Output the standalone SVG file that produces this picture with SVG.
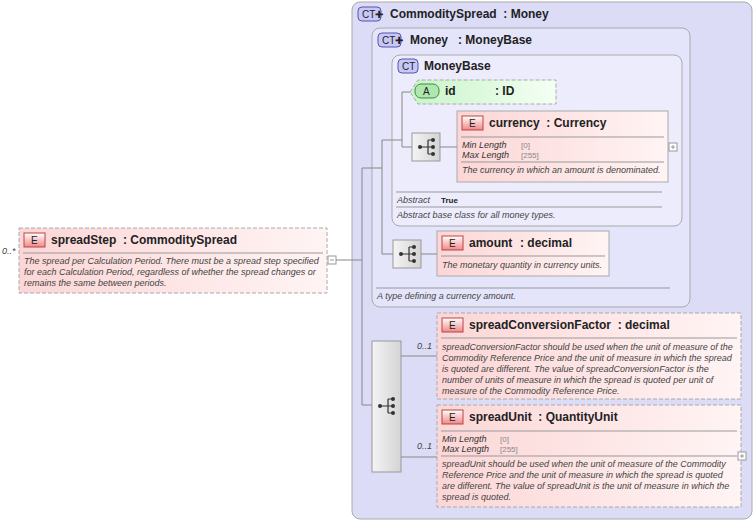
<svg xmlns="http://www.w3.org/2000/svg" width="755" height="522" viewBox="0 0 755 522">
<defs>
<linearGradient id="eg" x1="0" y1="0" x2="1" y2="0"><stop offset="0" stop-color="#fcd6d6"/><stop offset="1" stop-color="#fff4f4"/></linearGradient>
<linearGradient id="ag" x1="0" y1="0" x2="1" y2="0"><stop offset="0" stop-color="#c8f4c8"/><stop offset="1" stop-color="#f4fff4"/></linearGradient>
<linearGradient id="sg" x1="0" y1="0" x2="1" y2="0"><stop offset="0" stop-color="#f4f4f4"/><stop offset="1" stop-color="#d4d4d4"/></linearGradient>
<linearGradient id="bg" x1="0" y1="0" x2="0" y2="1"><stop offset="0" stop-color="#fff"/><stop offset="1" stop-color="#f08888"/></linearGradient>
<g id="seqicon"><circle cx="-8" cy="0" r="2" fill="#333"/><path d="M-8 0H0M0 -7V7M0 -7H5M0 0H5M0 7H5" stroke="#333" fill="none" stroke-width="1.2"/><circle cx="5" cy="-7" r="2" fill="#333"/><circle cx="5" cy="0" r="2" fill="#333"/><circle cx="5" cy="7" r="2" fill="#333"/></g>
</defs>
<style>
text{font-family:"Liberation Sans",Arial,sans-serif;fill:#222;white-space:pre}
.t{font-size:12px;font-weight:bold}
.d{font-size:9px;font-style:italic;fill:#444}
.c{font-size:9px;font-style:italic;fill:#333}
.v{font-size:8px;fill:#888}
.el{fill:url(#eg);stroke:#aaa}
.dash{stroke-dasharray:4,2}
.sep{stroke:#999;stroke-width:1}
.badge{fill:url(#bg);stroke:#b44}
.ct{fill:#c8c8f8;stroke:#55a;rx:4}
.seq{fill:url(#sg);stroke:#999}
.cn{stroke:#888;fill:none}
.pm{fill:#fff;stroke:#999}
</style>
<g id="commoditySpread">
<rect x="352" y="2" width="400" height="517" rx="8" fill="#dcdcf7" stroke="#aaa"/>
<rect x="358" y="7" width="23" height="14" class="ct"/><text x="362" y="18" font-size="10">CT✚</text>
<text x="390" y="18" class="t">CommoditySpread  : Money</text>
</g>
<g id="money">
<rect x="372" y="28" width="318" height="279" rx="8" fill="#e4e4fa" stroke="#aaa"/>
<rect x="378" y="33" width="23" height="14" class="ct"/><text x="382" y="44" font-size="10">CT✚</text>
<text x="410" y="44" class="t">Money</text><text x="458" y="44" class="t">: MoneyBase</text>
<line x1="376" y1="288" x2="670" y2="288" class="sep"/>
<text x="377" y="299" class="d">A type defining a currency amount.</text>
</g>
<g id="moneyBase">
<rect x="392" y="55" width="290" height="171" rx="8" fill="#ececfc" stroke="#aaa"/>
<rect x="398" y="59" width="20" height="14" class="ct"/><text x="402" y="70" font-size="10">CT</text>
<text x="424" y="70" class="t">MoneyBase</text>
<line x1="396" y1="192" x2="662" y2="192" class="sep"/>
<text x="397" y="203" class="d">Abstract</text><text x="441" y="203" font-size="8" font-weight="bold">True</text>
<line x1="396" y1="207" x2="662" y2="207" class="sep"/>
<text x="397" y="218" class="d">Abstract base class for all money types.</text>
</g>
<g id="id">
<path d="M410 92 L418 80 H556 V104 H418 Z" fill="url(#ag)" stroke="#aaa" class="dash"/>
<rect x="415" y="84" width="24" height="14" rx="6" fill="#aee8ae" stroke="#484"/><text x="423" y="95" font-size="10">A</text>
<text x="445" y="95" class="t">id</text><text x="495" y="95" class="t">: ID</text>
</g>
<g id="seq1"><rect x="412" y="133" width="28" height="28" class="seq"/><use href="#seqicon" x="428" y="147"/></g>
<g id="currency">
<rect x="457" y="111" width="211" height="71" class="el"/>
<rect x="462" y="116" width="21" height="14" class="badge"/><text x="469" y="127" font-size="10">E</text>
<text x="489" y="127" class="t">currency  : Currency</text>
<line x1="461" y1="137" x2="664" y2="137" class="sep"/>
<text x="462" y="148" class="c">Min Length</text><text x="521" y="148" class="v">[0]</text>
<text x="462" y="158" class="c">Max Length</text><text x="521" y="158" class="v">[255]</text>
<line x1="461" y1="162" x2="664" y2="162" class="sep"/>
<text x="462" y="173" class="d">The currency in which an amount is denominated.</text>
<rect x="669" y="143" width="8" height="8" class="pm"/><path d="M671 147h4M673 145v4" stroke="#999"/>
</g>
<g id="seq2"><rect x="393" y="240" width="28" height="28" class="seq"/><use href="#seqicon" x="409" y="254"/></g>
<g id="amount">
<rect x="437" y="231" width="172" height="45" class="el"/>
<rect x="442" y="236" width="21" height="14" class="badge"/><text x="449" y="247" font-size="10">E</text>
<text x="469" y="247" class="t">amount</text><text x="520" y="247" class="t">: decimal</text>
<line x1="441" y1="256" x2="605" y2="256" class="sep"/>
<text x="442" y="268" class="d">The monetary quantity in currency units.</text>
</g>
<g id="seq3"><rect x="372" y="341" width="29" height="131" class="seq"/><use href="#seqicon" x="388" y="406"/></g>
<g id="spreadConversionFactor">
<rect x="437" y="313" width="304" height="86" class="el dash"/>
<rect x="442" y="318" width="21" height="14" class="badge"/><text x="449" y="329" font-size="10">E</text>
<text x="469" y="329" class="t">spreadConversionFactor  : decimal</text>
<line x1="441" y1="338" x2="737" y2="338" class="sep"/>
<text class="d"><tspan x="442" y="350">spreadConversionFactor should be used when the unit of measure of the</tspan><tspan x="442" y="361">Commodity Reference Price and the unit of measure in which the spread</tspan><tspan x="442" y="372">is quoted are different. The value of spreadConversionFactor is the</tspan><tspan x="442" y="383">number of units of measure in which the spread is quoted per unit of</tspan><tspan x="442" y="394">measure of the Commodity Reference Price.</tspan></text>
<text x="417" y="349" class="d">0..1</text>
</g>
<g id="spreadUnit">
<rect x="437" y="405" width="304" height="102" class="el dash"/>
<rect x="442" y="410" width="21" height="14" class="badge"/><text x="449" y="421" font-size="10">E</text>
<text x="469" y="421" class="t">spreadUnit  : QuantityUnit</text>
<line x1="441" y1="431" x2="737" y2="431" class="sep"/>
<text x="442" y="442" class="c">Min Length</text><text x="500" y="442" class="v">[0]</text>
<text x="442" y="452" class="c">Max Length</text><text x="500" y="452" class="v">[255]</text>
<line x1="441" y1="456" x2="737" y2="456" class="sep"/>
<text class="d"><tspan x="442" y="467">spreadUnit should be used when the unit of measure of the Commodity</tspan><tspan x="442" y="478">Reference Price and the unit of measure in which the spread is quoted</tspan><tspan x="442" y="489">are different. The value of spreadUnit is the unit of measure in which the</tspan><tspan x="442" y="500">spread is quoted.</tspan></text>
<text x="417" y="449" class="d">0..1</text>
<rect x="738" y="452" width="8" height="8" class="pm"/><path d="M740 456h4M742 454v4" stroke="#999"/>
</g>
<g id="spreadStep">
<rect x="19" y="228" width="308" height="65" class="el dash"/>
<rect x="24" y="233" width="21" height="14" class="badge"/><text x="31" y="244" font-size="10">E</text>
<text x="51" y="244" class="t">spreadStep  : CommoditySpread</text>
<line x1="23" y1="253" x2="323" y2="253" class="sep"/>
<text class="d"><tspan x="24" y="264">The spread per Calculation Period. There must be a spread step specified</tspan><tspan x="24" y="275">for each Calculation Period, regardless of whether the spread changes or</tspan><tspan x="24" y="286">remains the same between periods.</tspan></text>
<text x="2" y="254" class="d">0..*</text>
<rect x="328" y="256" width="8" height="8" class="pm"/><path d="M330 260h4" stroke="#999"/>
</g>
<g id="connectors">
<path class="cn" d="M336 260H362M362 168V405H372M362 168H382M382 140V254H393M382 140H402M402 92V147H412M402 92H410M440 147H457M421 254H437M401 356H437M401 457H437"/>
</g>
</svg>
